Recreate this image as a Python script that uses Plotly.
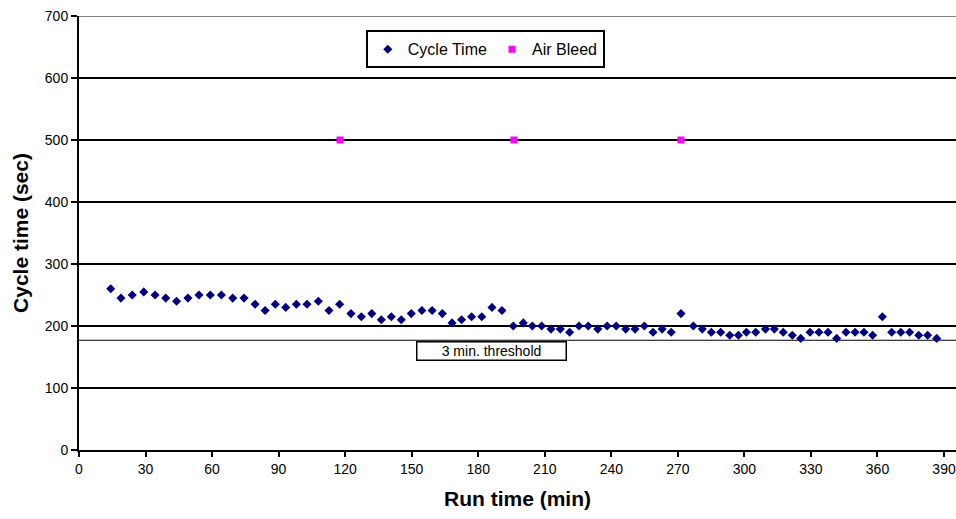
import plotly.graph_objects as go

# ---- data ----
cycle_x = [14.3, 18.9, 24.0, 29.2, 34.3, 39.1, 44.0, 49.1, 54.1, 59.2, 64.2, 69.3, 74.4, 79.4,
           83.9, 88.5, 93.2, 98.0, 102.8, 107.9, 112.7, 117.5, 122.6, 127.3, 132.0, 136.3, 140.8,
           145.3, 149.8, 154.6, 159.2, 163.8, 168.2, 172.5, 177.0, 181.6, 186.2, 190.7, 195.8,
           200.3, 204.4, 208.6, 212.8, 217.0, 221.2, 225.4, 229.6, 233.9, 238.1, 242.2, 246.5,
           250.7, 254.9, 258.8, 262.9, 267.0, 271.4, 277.0, 281.0, 285.1, 289.3, 293.4, 297.3,
           300.9, 305.1, 309.5, 313.5, 317.5, 321.6, 325.4, 329.6, 333.6, 337.7, 341.6, 345.8,
           349.9, 353.9, 357.8, 362.2, 366.4, 370.5, 374.5, 378.6, 382.6, 386.7]
cycle_y = [260, 245, 250, 255, 250, 245, 240, 245, 250, 250, 250, 245, 245, 235,
           225, 235, 230, 235, 235, 240, 225, 235, 220, 215, 220, 210, 215,
           210, 220, 225, 225, 220, 205, 210, 215, 215, 230, 225, 200,
           205, 200, 200, 195, 195, 190, 200, 200, 195, 200, 200, 195,
           195, 200, 190, 195, 190, 220, 200, 195, 190, 190, 185, 185,
           190, 190, 195, 195, 190, 185, 180, 190, 190, 190, 180, 190,
           190, 190, 185, 215, 190, 190, 190, 185, 185, 180]
bleed_x = [117.7, 196.1, 271.4]
bleed_y = [500, 500, 500]
threshold = 177
x_ticks = list(range(0, 391, 30))
y_ticks = list(range(0, 701, 100))

FONT = "Liberation Sans, Arial, sans-serif"

fig = go.Figure()
fig.add_trace(go.Scatter(x=cycle_x, y=cycle_y, mode="markers", name="Cycle Time",
                         marker=dict(symbol="diamond", size=7, color="#000080",
                                     line=dict(width=0))))
fig.add_trace(go.Scatter(x=bleed_x, y=bleed_y, mode="markers", name="Air Bleed",
                         marker=dict(symbol="square", size=7, color="#FF00FF",
                                     line=dict(width=0))))

# threshold line
fig.add_shape(type="line", xref="paper", x0=0, x1=1, yref="y", y0=threshold, y1=threshold,
              line=dict(color="black", width=1.2), layer="below")
# top border (gray)
fig.add_shape(type="line", xref="paper", x0=0, x1=1, yref="y", y0=700, y1=700,
              line=dict(color="#808080", width=2), layer="above")

fig.add_annotation(x=185.8, y=160, xref="x", yref="y", text="3 min. threshold",
                   showarrow=False, font=dict(family=FONT, size=14, color="black"),
                   bordercolor="black", borderwidth=1.5, bgcolor="white",
                   width=146, height=15, borderpad=1)

fig.update_layout(
    width=956, height=519,
    margin=dict(l=79, r=0, t=16, b=69),
    paper_bgcolor="white", plot_bgcolor="white",
    font=dict(family=FONT, size=14, color="black"),
    showlegend=True,
    legend=dict(orientation="h", x=0.327, y=0.967, xanchor="left", yanchor="top",
                bordercolor="black", borderwidth=2, bgcolor="white",
                font=dict(family=FONT, size=16, color="black"),
                itemwidth=30, tracegroupgap=0),
    xaxis=dict(range=[0, 395.4], tickvals=x_ticks, showgrid=False, zeroline=False,
               showline=True, linecolor="black", linewidth=2,
               ticks="outside", ticklen=5, tickwidth=2, tickcolor="black",
               tickfont=dict(family=FONT, size=14),
               title=dict(text="<b>Run time (min)</b>", font=dict(family=FONT, size=21),
                          standoff=16)),
    yaxis=dict(range=[0, 700], tickvals=y_ticks, showgrid=True, gridcolor="black",
               gridwidth=2, zeroline=False,
               showline=True, linecolor="black", linewidth=2,
               ticks="outside", ticklen=6, tickwidth=2, tickcolor="black",
               tickfont=dict(family=FONT, size=14),
               title=dict(text="<b>Cycle time (sec)</b>", font=dict(family=FONT, size=21),
                          standoff=10)),
)

fig.write_html("out.html")
